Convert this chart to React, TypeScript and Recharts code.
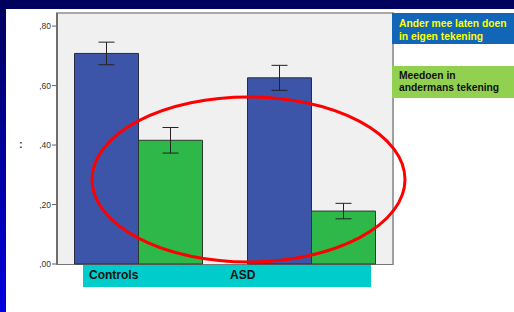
import { BarChart, Bar, XAxis, YAxis, ErrorBar } from 'recharts';

const groups = ['Controls', 'ASD'];
const eigenMeans = [0.708, 0.626];
const eigenErr = [0.038, 0.042];
const andermansMeans = [0.416, 0.178];
const andermansErr = [0.043, 0.026];
const yTicks = [0, 0.2, 0.4, 0.6, 0.8];
const legendEigen = ['Ander mee laten doen', 'in eigen tekening'];
const legendAndermans = ['Meedoen in', 'andermans tekening'];

const data = groups.map((g, i) => ({
    group: g,
    eigen: eigenMeans[i],
    eigenErr: eigenErr[i],
    andermans: andermansMeans[i],
    andermansErr: andermansErr[i],
}));

const fmtTick = (v: number) => ',' + v.toFixed(2).split('.')[1];

export default function App() {
    return (
        <div style={{ position: 'fixed', left: 0, top: 0, width: 514, height: 312, overflow: 'hidden', background: 'linear-gradient(to bottom, #00005c, #0000e0)', fontFamily: '"Liberation Sans", Arial, sans-serif' }}>
            {/* white slide panel */}
            <div style={{ position: 'absolute', left: 6, top: 9, right: 0, bottom: 0, background: '#ffffff' }} />

            {/* plot frame */}
            <div style={{ position: 'absolute', boxSizing: 'border-box', left: 56, top: 12, width: 338, height: 253, background: '#f0f0f0', borderTop: '2px solid #a8a8a8', borderRight: '2px solid #a0a0a0', borderBottom: '1px solid #777' }} />

            <div style={{ position: 'absolute', left: 0, top: 0 }}>
                <BarChart width={514} height={312} data={data} margin={{ top: 13, right: 122, bottom: 48, left: 17 }} barGap={0}>
                    <XAxis dataKey="group" hide padding={{ left: -5.5, right: -5.5 }} />
                    <YAxis
                        width={40}
                        domain={[0, 0.844]}
                        ticks={yTicks}
                        tickFormatter={fmtTick}
                        axisLine={{ stroke: '#6e6e6e', strokeWidth: 2 }}
                        tickLine={{ stroke: '#666' }}
                        tickSize={5}
                        tickMargin={1}
                        tick={{ fill: '#333', fontSize: 8.5 }}
                    />
                    <Bar dataKey="eigen" fill="#3d55a8" stroke="#2a2a40" strokeWidth={1} barSize={64} isAnimationActive={false}>
                        <ErrorBar dataKey="eigenErr" width={8} stroke="#222" strokeWidth={1} />
                    </Bar>
                    <Bar dataKey="andermans" fill="#2eb84a" stroke="#2a3a2a" strokeWidth={1} barSize={64} isAnimationActive={false}>
                        <ErrorBar dataKey="andermansErr" width={8} stroke="#222" strokeWidth={1} />
                    </Bar>
                </BarChart>
            </div>

            {/* stray axis-title remnant */}
            <div style={{ position: 'absolute', left: 19, top: 138, fontSize: 11, fontWeight: 'bold', color: '#333' }}>:</div>

            {/* category strip */}
            <div style={{ position: 'absolute', left: 83, top: 265, width: 288, height: 22, background: '#00cccc' }} />
            <div style={{ position: 'absolute', left: 89, top: 268, fontSize: 12, fontWeight: 'bold', color: '#111' }}>{groups[0]}</div>
            <div style={{ position: 'absolute', left: 230, top: 268, fontSize: 12, fontWeight: 'bold', color: '#111' }}>{groups[1]}</div>

            {/* legend boxes */}
            <div style={{ position: 'absolute', left: 392, top: 13, width: 122, height: 31, background: '#1166b8' }} />
            <div style={{ position: 'absolute', left: 399, top: 17, fontSize: 10.3, lineHeight: '13px', fontWeight: 'bold', color: '#ffff00', whiteSpace: 'nowrap' }}>
                {legendEigen.map((l) => <div key={l}>{l}</div>)}
            </div>
            <div style={{ position: 'absolute', left: 392, top: 66, width: 122, height: 32, background: '#92d050' }} />
            <div style={{ position: 'absolute', left: 399, top: 70, fontSize: 10.3, lineHeight: '12px', fontWeight: 'bold', color: '#111', whiteSpace: 'nowrap' }}>
                {legendAndermans.map((l) => <div key={l}>{l}</div>)}
            </div>

            {/* red highlight ellipse */}
            <svg width={514} height={312} style={{ position: 'absolute', left: 0, top: 0, pointerEvents: 'none' }}>
                <ellipse cx={248.5} cy={179.5} rx={156.5} ry={82.5} fill="none" stroke="#ff0000" strokeWidth={3} />
            </svg>
        </div>
    );
}
